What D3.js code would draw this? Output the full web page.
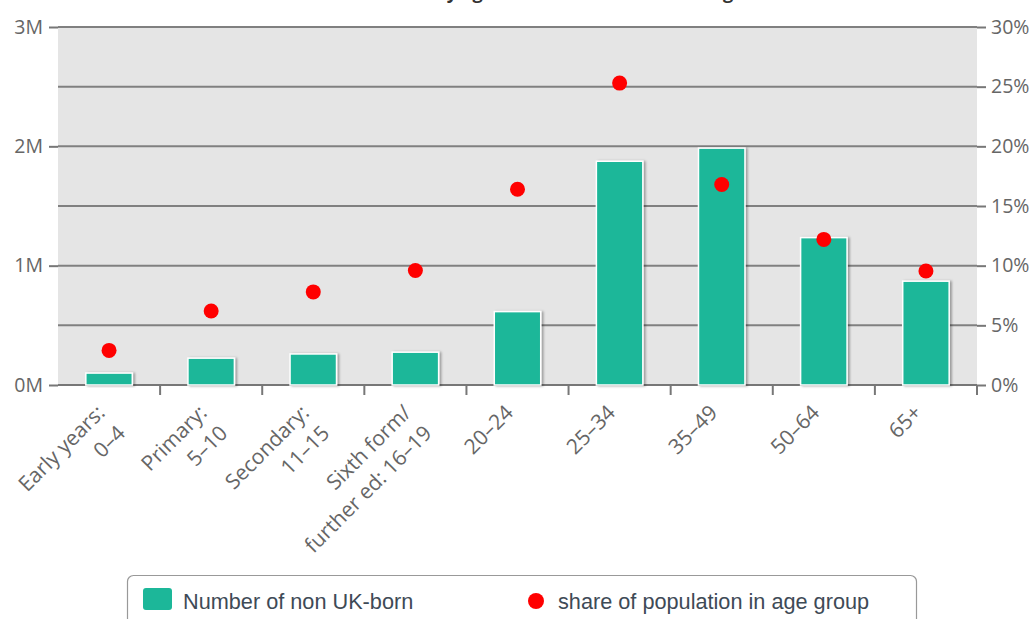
<!DOCTYPE html>
<html>
<head>
<meta charset="utf-8">
<script src="https://cdn.jsdelivr.net/npm/d3@7"></script>
<style>
  html, body { margin: 0; padding: 0; background: #fff; }
  svg { display: block; }
</style>
</head>
<body>
<svg id="chart" width="1035" height="619"></svg>
<script>
// ---- data ----
const title = "Non UK-born residents by age band and share of each age cohort";
const categories = ["Early years:\n0\u20134", "Primary:\n5\u201310", "Secondary:\n11\u201315",
  "Sixth form/\nfurther ed: 16\u201319", "20\u201324", "25\u201334", "35\u201349", "50\u201364", "65+"];
const nonUKBorn = [0.10, 0.225, 0.26, 0.275, 0.615, 1.875, 1.985, 1.235, 0.87];   // millions
const shareOfPopulation = [2.9, 6.2, 7.8, 9.6, 16.4, 25.3, 16.8, 12.2, 9.55];     // percent
const leftTicks = [0, 1, 2, 3];
const rightTicks = [0, 5, 10, 15, 20, 25, 30];
const seriesNames = ["Number of non UK-born", "share of population in age group"];

// ---- layout ----
const svg = d3.select("#chart");
const L = 58, R = 977, T = 27, B = 385;
const tickFont = "'Open Sans', 'DejaVu Sans', sans-serif";

const x = d3.scaleBand().domain(categories).range([L, R]).padding(0);
const yLeft = d3.scaleLinear().domain([0, 3]).range([B, T]);
const yRight = d3.scaleLinear().domain([0, 30]).range([B, T]);

// defs: shadow
const defs = svg.append("defs");
const f = defs.append("filter").attr("id", "shadow").attr("x", "-20%").attr("y", "-20%").attr("width", "140%").attr("height", "140%");
f.append("feDropShadow").attr("dx", 2).attr("dy", 0.5).attr("stdDeviation", 1.3)
  .attr("flood-color", "#000").attr("flood-opacity", 0.32);

// title (cut off at top, as in the reference)
svg.append("text").attr("x", 517).attr("y", -1).attr("text-anchor", "middle")
  .style("font-family", tickFont).style("font-weight", "bold").style("font-size", "18px")
  .style("fill", "#333").text(title);

// plot background
svg.append("rect").attr("x", L).attr("y", T).attr("width", R - L).attr("height", B - T).attr("fill", "#e5e5e5");

// gridlines
svg.append("g").selectAll("line").data(rightTicks).join("line")
  .attr("x1", L).attr("x2", R)
  .attr("y1", d => yRight(d)).attr("y2", d => yRight(d))
  .attr("stroke", "#808080").attr("stroke-width", 2);

// left axis
const gl = svg.append("g").attr("transform", `translate(${L},0)`)
  .call(d3.axisLeft(yLeft).tickValues(leftTicks).tickFormat(d => d + "M").tickSize(9).tickPadding(6));
gl.select(".domain").remove();
gl.selectAll(".tick line").attr("stroke", "#777").attr("stroke-width", 2);
gl.selectAll(".tick text").style("font-family", tickFont).style("font-size", "19.5px").attr("fill", "#666");

// right axis
const gr = svg.append("g").attr("transform", `translate(${R},0)`)
  .call(d3.axisRight(yRight).tickValues(rightTicks).tickFormat(d => d + "%").tickSize(9).tickPadding(5));
gr.select(".domain").remove();
gr.selectAll(".tick line").attr("stroke", "#777").attr("stroke-width", 2);
gr.selectAll(".tick text").style("font-family", tickFont).style("font-size", "19.5px").attr("fill", "#666");

// bottom axis line and boundary ticks
svg.append("line").attr("x1", L).attr("x2", R).attr("y1", B).attr("y2", B)
  .attr("stroke", "#777").attr("stroke-width", 2);
svg.append("g").selectAll("line").data(categories).join("line")
  .attr("x1", d => x(d) + x.bandwidth()).attr("x2", d => x(d) + x.bandwidth())
  .attr("y1", B).attr("y2", B + 10)
  .attr("stroke", "#777").attr("stroke-width", 2);

// x labels
const lh = 29;
const xl = svg.append("g").selectAll("text").data(categories).join("text")
  .attr("transform", d => `translate(${x(d) + x.bandwidth() / 2 - 3},414) rotate(-45)`)
  .attr("text-anchor", "end")
  .style("font-family", tickFont).style("font-size", "21px").attr("fill", "#666");
xl.each(function(d) {
  const lines = d.split("\n");
  d3.select(this).selectAll("tspan").data(lines).join("tspan")
    .attr("x", 0).attr("dy", (l, i) => i === 0 ? 0 : lh).text(l => l);
});

// bars
const bw = x.bandwidth() * 0.455;
svg.append("g").selectAll("rect").data(categories).join("rect")
  .attr("x", d => x(d) + x.bandwidth() / 2 - bw / 2)
  .attr("y", (d, i) => yLeft(nonUKBorn[i]))
  .attr("width", bw)
  .attr("height", (d, i) => B - yLeft(nonUKBorn[i]))
  .attr("fill", "#1cb799").attr("stroke", "#fff").attr("stroke-width", 1.5)
  .attr("filter", "url(#shadow)");

// dots
svg.append("g").selectAll("circle").data(categories).join("circle")
  .attr("cx", d => x(d) + x.bandwidth() / 2)
  .attr("cy", (d, i) => yRight(shareOfPopulation[i]))
  .attr("r", 7.5).attr("fill", "#ff0000");

// legend
const legendFont = "'Liberation Sans', Arial, sans-serif";
const lg = svg.append("g");
lg.append("rect").attr("x", 127.5).attr("y", 575.5).attr("width", 789).attr("height", 60).attr("rx", 6)
  .attr("fill", "#fff").attr("stroke", "#999").attr("stroke-width", 1.2);
lg.append("rect").attr("x", 143).attr("y", 588).attr("width", 29).attr("height", 22).attr("rx", 3)
  .attr("fill", "#1cb799");
lg.append("text").attr("x", 183).attr("y", 609).text(seriesNames[0])
  .style("font-family", legendFont).style("font-size", "21.7px").attr("fill", "#3e4a56");
lg.append("circle").attr("cx", 536).attr("cy", 601).attr("r", 8).attr("fill", "#ff0000");
lg.append("text").attr("x", 558).attr("y", 609).text(seriesNames[1])
  .style("font-family", legendFont).style("font-size", "21.7px").attr("fill", "#3e4a56");
</script>
</body>
</html>
